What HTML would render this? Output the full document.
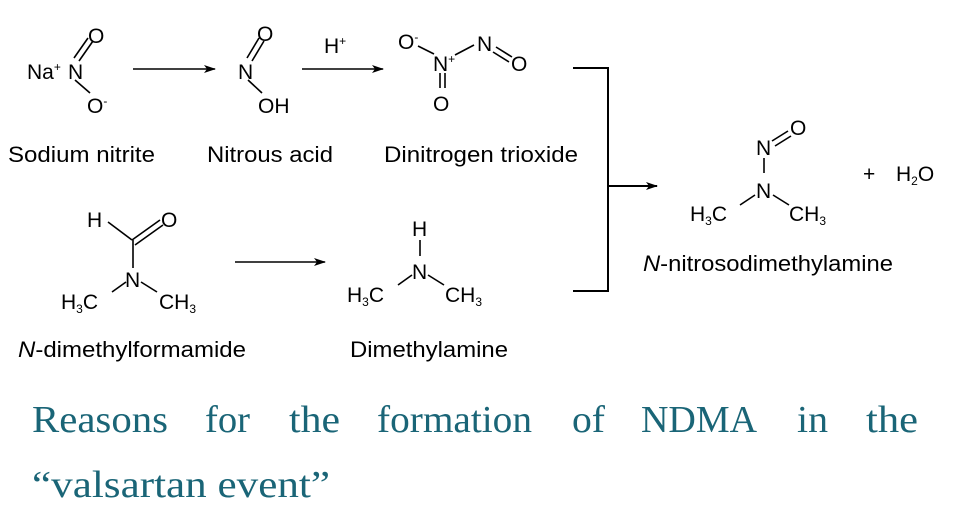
<!DOCTYPE html>
<html><head><meta charset="utf-8"><style>
html,body{margin:0;padding:0;background:#fff;width:969px;height:520px;overflow:hidden}
svg text{font-family:"Liberation Sans",sans-serif;fill:#000}
.s{font-size:22px}
.a{font-size:21px}
.sub{font-size:12px}
.t{font-family:"Liberation Serif",serif;font-size:38px;fill:#1a6577}
</style></head><body>
<svg width="969" height="520" viewBox="0 0 969 520" xmlns="http://www.w3.org/2000/svg">
<defs><marker id="ar" markerWidth="12" markerHeight="8" refX="11" refY="4" orient="auto" markerUnits="userSpaceOnUse"><path d="M0,0 L12,4 L0,8 L3,4 z" fill="#000"/></marker></defs>
<g stroke="#000" stroke-width="1.6" fill="none">
<line x1="74" y1="58" x2="88" y2="38"/><line x1="79" y1="61" x2="93" y2="41"/>
<line x1="75" y1="80" x2="90" y2="93"/>
<line x1="247" y1="58" x2="259" y2="38"/><line x1="252" y1="61" x2="264" y2="41"/>
<line x1="248" y1="80" x2="262" y2="93"/>
<line x1="418" y1="46" x2="434" y2="54"/>
<line x1="455" y1="55" x2="474" y2="45"/>
<line x1="496" y1="47" x2="512" y2="57"/><line x1="493" y1="52" x2="509" y2="62"/>
<line x1="440" y1="73" x2="440" y2="88"/><line x1="445" y1="73" x2="445" y2="88"/>
<line x1="133" y1="69" x2="215" y2="69" marker-end="url(#ar)"/>
<line x1="302" y1="69" x2="383" y2="69" marker-end="url(#ar)"/>
<line x1="235" y1="262" x2="325" y2="262" marker-end="url(#ar)"/>
<polyline points="573,68 608,68 608,291 573,291" stroke-width="2"/>
<line x1="608" y1="186" x2="657" y2="186" stroke-width="2" marker-end="url(#ar)"/>
<line x1="108" y1="222" x2="132" y2="240"/>
<line x1="132" y1="240" x2="160" y2="220"/><line x1="135" y1="245" x2="163" y2="225"/>
<line x1="133" y1="240" x2="133" y2="268"/>
<line x1="112" y1="292" x2="126" y2="282"/><line x1="141" y1="282" x2="157" y2="292"/>
<line x1="420" y1="240" x2="420" y2="256"/>
<line x1="398" y1="285" x2="412" y2="275"/><line x1="428" y1="275" x2="444" y2="285"/>
<line x1="772" y1="141" x2="788" y2="131"/><line x1="775" y1="146" x2="791" y2="136"/>
<line x1="764" y1="158" x2="764" y2="173"/>
<line x1="740" y1="205" x2="755" y2="195"/><line x1="773" y1="195" x2="789" y2="205"/>
</g>
<text class="a" x="27" y="79">Na<tspan class="sub" dy="-8">+</tspan></text>
<text class="a" x="68" y="79">N</text>
<text class="a" x="88" y="43">O</text>
<text class="a" x="87" y="113">O<tspan class="sub" dy="-8">-</tspan></text>
<text class="a" x="257" y="41">O</text>
<text class="a" x="238" y="79">N</text>
<text class="a" x="258" y="113">OH</text>
<text class="a" x="324" y="53">H<tspan class="sub" dy="-8">+</tspan></text>
<text class="a" x="398" y="49">O<tspan class="sub" dy="-8">-</tspan></text>
<text class="a" x="433" y="71">N<tspan class="sub" dy="-8">+</tspan></text>
<text class="a" x="477" y="51">N</text>
<text class="a" x="511" y="71">O</text>
<text class="a" x="433" y="111">O</text>
<text class="a" x="87" y="227">H</text>
<text class="a" x="161" y="227">O</text>
<text class="a" x="125" y="287">N</text>
<text class="a" x="61" y="309">H<tspan class="sub" dy="4">3</tspan><tspan dy="-4">C</tspan></text>
<text class="a" x="159" y="309">CH<tspan class="sub" dy="4">3</tspan></text>
<text class="a" x="412" y="236">H</text>
<text class="a" x="412" y="279">N</text>
<text class="a" x="347" y="302">H<tspan class="sub" dy="4">3</tspan><tspan dy="-4">C</tspan></text>
<text class="a" x="445" y="302">CH<tspan class="sub" dy="4">3</tspan></text>
<text class="a" x="790" y="135">O</text>
<text class="a" x="756" y="155">N</text>
<text class="a" x="756" y="198">N</text>
<text class="a" x="690" y="221">H<tspan class="sub" dy="4">3</tspan><tspan dy="-4">C</tspan></text>
<text class="a" x="789" y="221">CH<tspan class="sub" dy="4">3</tspan></text>
<text class="a" x="863" y="181">+</text>
<text class="a" x="896" y="181">H<tspan class="sub" dy="4">2</tspan><tspan dy="-4">O</tspan></text>
<text class="s" x="8" y="162" textLength="147" lengthAdjust="spacingAndGlyphs">Sodium nitrite</text>
<text class="s" x="207" y="162" textLength="126" lengthAdjust="spacingAndGlyphs">Nitrous acid</text>
<text class="s" x="384" y="162" textLength="194" lengthAdjust="spacingAndGlyphs">Dinitrogen trioxide</text>
<text class="s" x="643" y="271" textLength="250" lengthAdjust="spacingAndGlyphs"><tspan font-style="italic">N</tspan>-nitrosodimethylamine</text>
<text class="s" x="18" y="357" textLength="228" lengthAdjust="spacingAndGlyphs"><tspan font-style="italic">N</tspan>-dimethylformamide</text>
<text class="s" x="350" y="357" textLength="158" lengthAdjust="spacingAndGlyphs">Dimethylamine</text>
<text class="t" x="32" y="432" textLength="136" lengthAdjust="spacingAndGlyphs">Reasons</text>
<text class="t" x="205" y="432" textLength="45" lengthAdjust="spacingAndGlyphs">for</text>
<text class="t" x="289" y="432" textLength="51" lengthAdjust="spacingAndGlyphs">the</text>
<text class="t" x="377" y="432" textLength="155" lengthAdjust="spacingAndGlyphs">formation</text>
<text class="t" x="572" y="432" textLength="33" lengthAdjust="spacingAndGlyphs">of</text>
<text class="t" x="641" y="432" textLength="116" lengthAdjust="spacingAndGlyphs">NDMA</text>
<text class="t" x="797" y="432" textLength="31" lengthAdjust="spacingAndGlyphs">in</text>
<text class="t" x="866" y="432" textLength="52" lengthAdjust="spacingAndGlyphs">the</text>
<text class="t" x="32" y="497" textLength="298" lengthAdjust="spacingAndGlyphs">“valsartan event”</text>
</svg>
</body></html>
